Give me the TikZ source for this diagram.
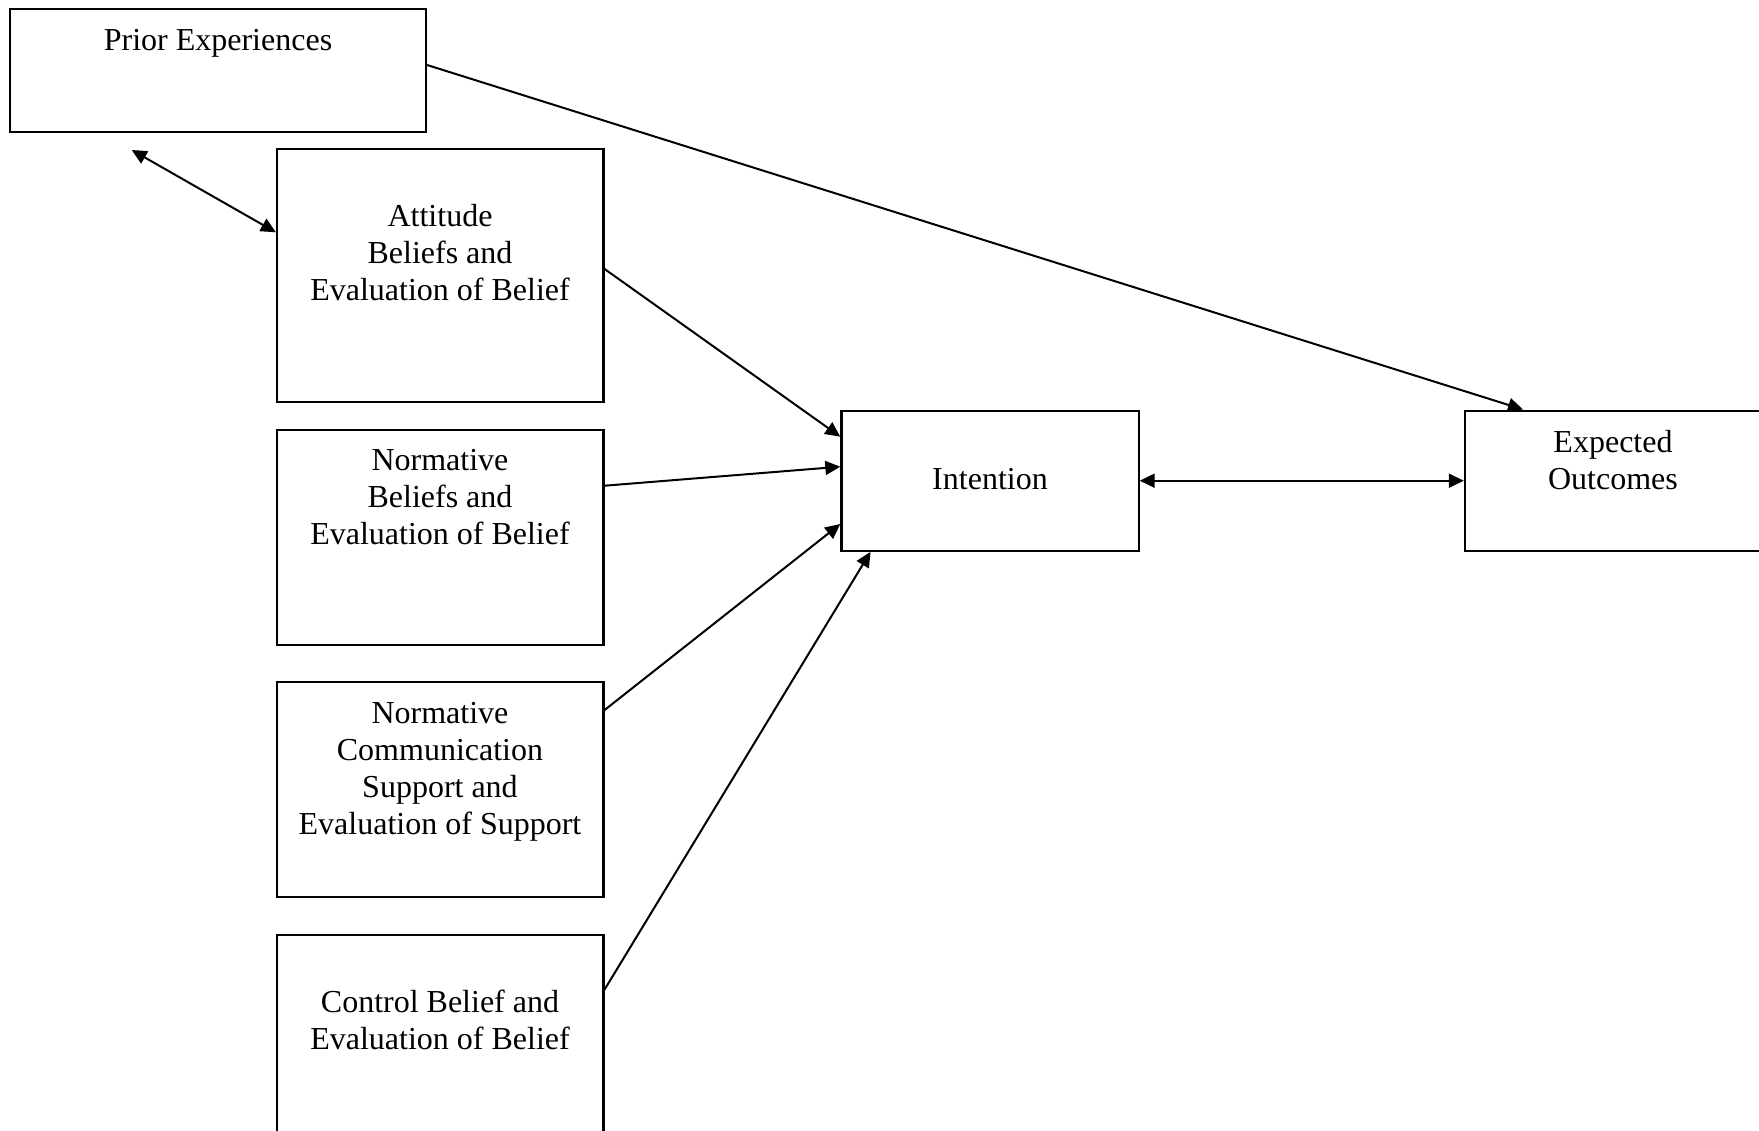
\documentclass[tikz,border=0pt]{standalone}
\usepackage{fontspec}
\setmainfont{Liberation Serif}
\usetikzlibrary{arrows.meta}
\begin{document}
\begin{tikzpicture}[x=1pt,y=-1pt,
  box/.style={draw, line width=2.2pt, inner sep=0pt},
  lbl/.style={align=center, font=\fontsize{32}{37}\selectfont, inner sep=0pt},
  tip/.tip={Triangle[length=15pt,width=14pt]},
  conn/.style={line width=2pt, -tip},
  both/.style={line width=2pt, tip-tip}]
\clip (0,0) rectangle (1759,1130);
\fill[white] (0,0) rectangle (1759,1130);
% boxes
\node[box, minimum width=416pt, minimum height=123pt] (prior) at (218,70.5) {};
\node[box, minimum width=326.5pt, minimum height=252.5pt] (att) at (440.25,275.5) {};
\node[box, minimum width=326.5pt, minimum height=215.4pt] (norm) at (440.25,537.3) {};
\node[box, minimum width=326.5pt, minimum height=215pt] (comm) at (440.25,789.5) {};
\node[box, minimum width=326.5pt, minimum height=215pt] (ctrl) at (440.25,1042.5) {};
\node[box, minimum width=297.2pt, minimum height=140.2pt] (intent) at (990,480.7) {};
\node[box, minimum width=297.2pt, minimum height=140.2pt] (expect) at (1613.5,480.7) {};
% labels
\node[lbl] (priorT) at (218,43) {Prior Experiences};
\node[lbl] (attT) at (440,252.5) {Attitude\\Beliefs and\\Evaluation of Belief};
\node[lbl] (normT) at (440,497.5) {Normative\\Beliefs and\\Evaluation of Belief};
\node[lbl] (commT) at (440,772) {Normative\\Communication\\Support and\\Evaluation of Support};
\node[lbl] (ctrlT) at (440,1019.5) {Control Belief and\\Evaluation of Belief};
\node[lbl] (intT) at (990,479) {Intention};
\node[lbl] (expT) at (1613,460) {Expected\\Outcomes};
% connectors
\coordinate (pa) at (131.7,150);
\draw[both] (pa) -- ([yshift=43.2pt]att.west);
\draw[conn] ([yshift=5.5pt]prior.east) -- ([xshift=-90.5pt]expect.north);
\draw[conn] ([yshift=6.5pt]att.east) -- ([yshift=44pt]intent.west);
\draw[conn] ([yshift=51.6pt]norm.east) -- ([yshift=14pt]intent.west);
\draw[conn] ([yshift=79.5pt]comm.east) -- ([yshift=-43.3pt]intent.west);
\draw[conn] ([yshift=53pt]ctrl.east) -- ([xshift=-119.5pt]intent.south);
\draw[both] (intent.east) -- (expect.west);
\end{tikzpicture}
\end{document}
